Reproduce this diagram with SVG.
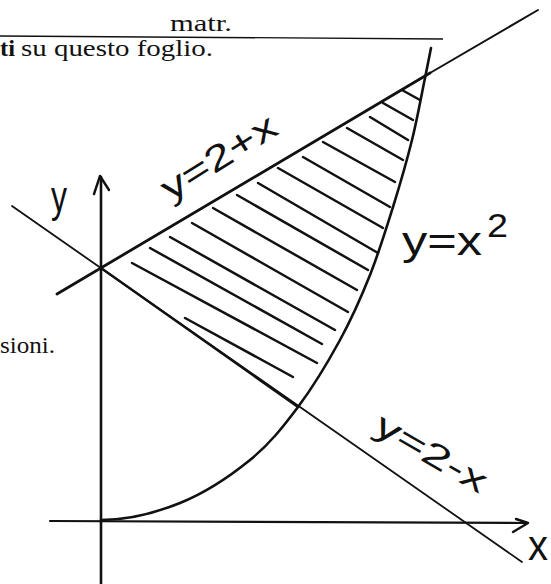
<svg xmlns="http://www.w3.org/2000/svg" width="551" height="584" viewBox="0 0 551 584">
<style>
.ln{fill:none;stroke:#111;stroke-linecap:round;stroke-linejoin:round}
.hatch{fill:none;stroke:#111;stroke-width:2.5;stroke-linecap:round}
.print{font-family:"Liberation Serif",serif;font-size:23px;fill:#111}
.hand{font-family:"Liberation Sans",sans-serif;fill:#111}
</style>
<rect width="551" height="584" fill="#fff"/>
<g id="page-text">
<text class="print" x="170" y="31" textLength="62" lengthAdjust="spacingAndGlyphs">matr.</text>
<line x1="0" y1="36" x2="443" y2="39" stroke="#111" stroke-width="1.3"/>
<text class="print" x="0" y="56" font-weight="bold" textLength="15" lengthAdjust="spacingAndGlyphs">ti</text>
<text class="print" x="21" y="56" textLength="192" lengthAdjust="spacingAndGlyphs">su questo foglio.</text>
<text class="print" x="0" y="353" textLength="55" lengthAdjust="spacingAndGlyphs">sioni.</text>
</g>
<g id="axes">
<path class="ln" d="M101,177 L101,584" stroke-width="2.6"/>
<path class="ln" d="M94,194 L100,176 L109,190" stroke-width="2.4"/>
<path class="ln" d="M50,521 L527,523" stroke-width="2.2"/>
<path class="ln" d="M516,519 L528,523 L513,532" stroke-width="2.4"/>
</g>
<g id="line-2-minus-x">
<path class="ln" d="M12,206 L522,562" stroke-width="1.8"/>
<path class="ln" d="M101,268 L298,407" stroke-width="2.4"/>
</g>
<g id="line-2-plus-x">
<path class="ln" d="M57,294 L430,73" stroke-width="2.8"/>
<path class="ln" d="M430,73 L538,10" stroke-width="2"/>
</g>
<g id="parabola">
<path class="ln" stroke-width="2.6" d="M101,520 C127,520 155.2,513 180,503 C204.8,493 230.3,476 250,460 C269.7,444 283,427 298,407 C313,387 328,362 340,340 C352,318 361.2,297.2 370,275 C378.8,252.8 386,229.5 393,207 C400,184.5 406.7,161.5 412,140 C417.3,118.5 421.8,93.3 425,78 C428.2,62.7 429,58 431,48"/>
</g>
<g id="hatching">
<path class="hatch" d="M402,90 L420,100"/>
<path class="hatch" d="M383,103 L413,120"/>
<path class="hatch" d="M370,117 L408,140"/>
<path class="hatch" d="M347,128 L403,160"/>
<path class="hatch" d="M323,142 L395,182"/>
<path class="hatch" d="M303,157 L390,207"/>
<path class="hatch" d="M278,168 L383,228"/>
<path class="hatch" d="M258,183 L378,253"/>
<path class="hatch" d="M237,195 L368,270"/>
<path class="hatch" d="M213,208 L357,290"/>
<path class="hatch" d="M192,223 L348,312"/>
<path class="hatch" d="M170,237 L335,330"/>
<path class="hatch" d="M150,248 L322,344"/>
<path class="hatch" d="M132,263 L317,363"/>
<path class="hatch" d="M185,318 L293,377" stroke-width="3.2"/>
</g>
<g id="labels">
<text class="hand" x="0" y="0" font-size="44" transform="translate(51,212)" textLength="16" lengthAdjust="spacingAndGlyphs">y</text>
<text class="hand" x="0" y="0" font-size="36" transform="translate(170,202) rotate(-32)" textLength="130" lengthAdjust="spacingAndGlyphs">y=2+x</text>
<text class="hand" x="402" y="255" font-size="40" textLength="80" lengthAdjust="spacingAndGlyphs">y=x</text>
<text class="hand" x="487" y="237" font-size="33" textLength="21" lengthAdjust="spacingAndGlyphs">2</text>
<text class="hand" x="0" y="0" font-size="34" transform="translate(372,432) rotate(30)" textLength="124" lengthAdjust="spacingAndGlyphs">y=2-x</text>
<text class="hand" x="528" y="560" font-size="42" textLength="20" lengthAdjust="spacingAndGlyphs">x</text>
</g>
</svg>
